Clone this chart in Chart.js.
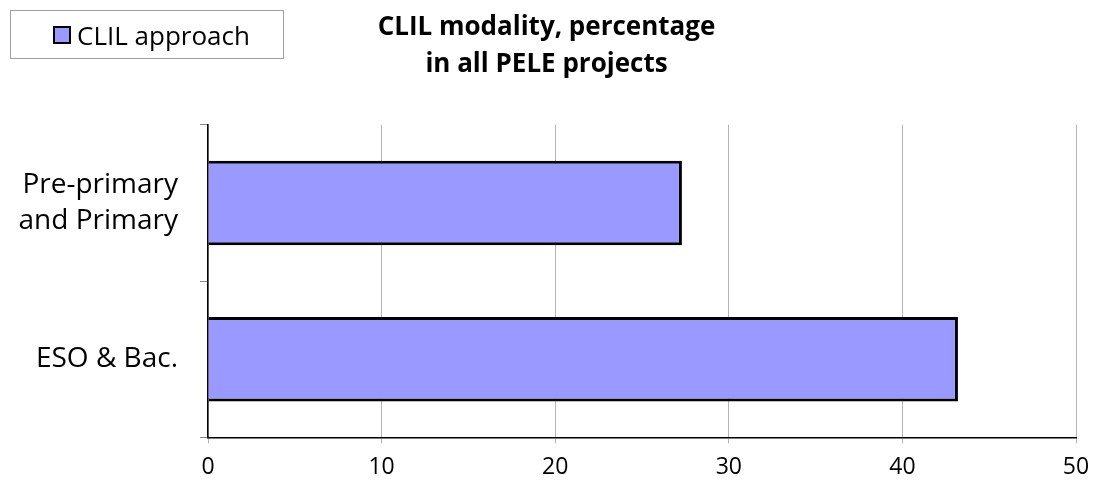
<!DOCTYPE html>
<html lang="en">
<head>
    <meta charset="UTF-8">
    <title>CLIL modality</title>
    <style>
        body {
            margin: 0;
            background-color: #ffffff;
            font-family: "Open Sans", Arial, sans-serif;
        }
        .wrap {
            position: relative;
            width: 1093px;
            height: 499px;
        }
        #legend {
            position: absolute;
            left: 10px;
            top: 10px;
            width: 272px;
            height: 47px;
            border: 1px solid #a0a0a0;
            display: flex;
            align-items: center;
            box-sizing: content-box;
            padding-left: 0;
            font-size: 26px;
            color: #000;
        }
        #legend .box {
            width: 14px;
            height: 14px;
            border: 2px solid #000;
            background: #9999ff;
            margin-left: 42px;
            margin-right: 6px;
        }
    </style>
</head>
<body>
    <div class="wrap">
        <canvas id="chart" width="1093" height="499"></canvas>
        <div id="legend"></div>
    </div>
    <script src="https://cdn.jsdelivr.net/npm/chart.js"></script>
    <script>
        const categories = [['Pre-primary', 'and Primary'], 'ESO & Bac.'];
        const seriesName = 'CLIL approach';
        const clilValues = [27.3, 43.2];
        const titleLines = ['CLIL modality, percentage', 'in all PELE projects'];

        // html legend (sits beside the title in the original)
        const legend = document.getElementById('legend');
        legend.innerHTML = '<span class="box"></span><span>' + seriesName + '</span>';

        const ctx = document.getElementById('chart').getContext('2d');
        new Chart(ctx, {
            type: 'bar',
            data: {
                labels: categories,
                datasets: [{
                    label: seriesName,
                    data: clilValues,
                    backgroundColor: '#9999ff',
                    borderColor: '#000000',
                    borderWidth: 3,
                    barPercentage: 0.54,
                    categoryPercentage: 1
                }]
            },
            options: {
                indexAxis: 'y',
                responsive: false,
                animation: false,
                layout: {
                    padding: { left: 0, right: 0, top: 0, bottom: 8 }
                },
                plugins: {
                    legend: { display: false },
                    tooltip: { enabled: false },
                    title: {
                        display: true,
                        text: titleLines,
                        color: '#000',
                        font: { family: '"Open Sans", Arial, sans-serif', size: 26, weight: 'bold', lineHeight: 1.42 },
                        padding: { top: 9, bottom: 42 }
                    }
                },
                scales: {
                    x: {
                        min: 0,
                        max: 50,
                        afterFit: function (scale) { scale.paddingRight = 17; },
                        ticks: {
                            stepSize: 10,
                            color: '#000',
                            padding: 10,
                            font: { family: '"Open Sans", Arial, sans-serif', size: 23 }
                        },
                        grid: {
                            color: '#b4b4b4',
                            lineWidth: 1,
                            tickLength: 6
                        },
                        border: { color: '#000', width: 1.5 }
                    },
                    y: {
                        afterFit: function (scale) { scale.width = 208; },
                        ticks: {
                            color: '#000',
                            padding: 22,
                            font: { family: '"Open Sans", Arial, sans-serif', size: 28, lineHeight: 1.28 }
                        },
                        grid: {
                            offset: true,
                            drawOnChartArea: false,
                            color: '#888',
                            tickLength: 8
                        },
                        border: { color: '#000', width: 1.5 }
                    }
                }
            }
        });
    </script>
</body>
</html>
